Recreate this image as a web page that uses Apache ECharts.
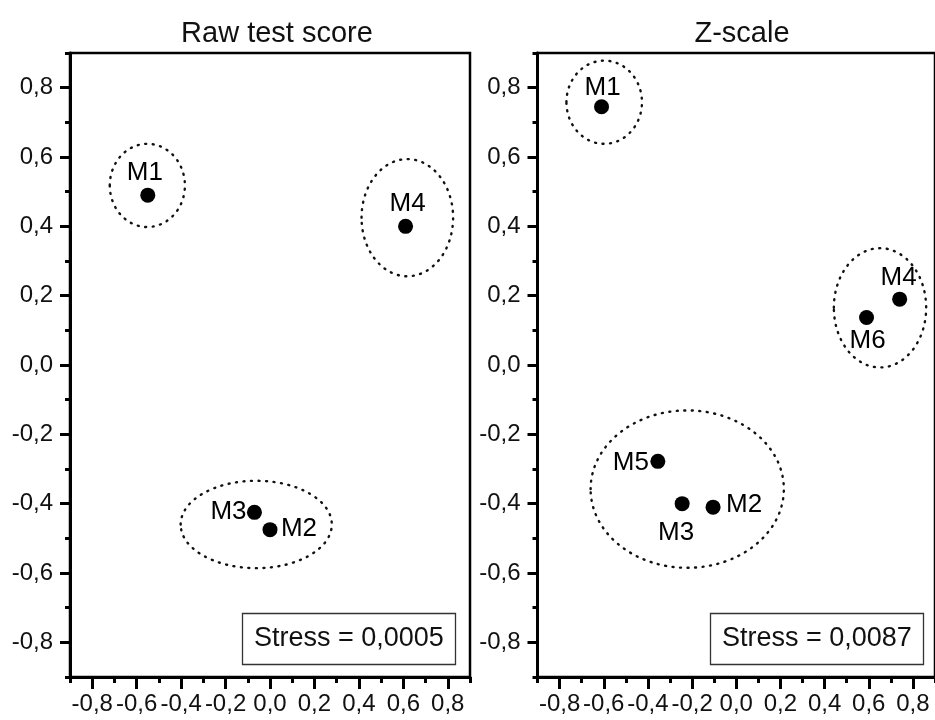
<!DOCTYPE html>
<html>
<head>
<meta charset="utf-8">
<script src="https://cdn.jsdelivr.net/npm/echarts@6/dist/echarts.min.js"></script>
<style>
  html, body { margin: 0; padding: 0; background: #fff; }
  #chart { width: 935px; height: 720px; }
</style>
</head>
<body>
<div id="chart"></div>
<script>
// ---- MDS configurations: two panels ----
const rawNames = ['M1', 'M2', 'M3', 'M4'];
const rawX = [-0.55, 0.0, -0.07, 0.61];
const rawY = [0.49, -0.475, -0.425, 0.40];

const zNames = ['M1', 'M2', 'M3', 'M4', 'M5', 'M6'];
const zX = [-0.61, -0.105, -0.245, 0.74, -0.355, 0.59];
const zY = [0.745, -0.41, -0.40, 0.19, -0.278, 0.137];

// cluster outlines: centre and semi-axes (data units)
const rawClusterCx = [-0.552, 0.618, -0.062];
const rawClusterCy = [0.518, 0.425, -0.46];
const rawClusterRx = [0.169, 0.206, 0.34];
const rawClusterRy = [0.12, 0.169, 0.126];

const zClusterCx = [-0.598, 0.651, -0.222];
const zClusterCy = [0.758, 0.165, -0.358];
const zClusterRx = [0.171, 0.209, 0.4375];
const zClusterRy = [0.12, 0.172, 0.227];

// axes
const axisMin = -0.9;
const axisMax = 0.9;
const tickValues = [-0.8, -0.6, -0.4, -0.2, 0.0, 0.2, 0.4, 0.6, 0.8];

const panelTitles = ['Raw test score', 'Z-scale'];
const stressTexts = ['Stress = 0,0005', 'Stress = 0,0087'];

// label placement around each point (pixel offsets)
const rawLabelOffset = { M1: [-3, -22], M2: [29, -1], M3: [-26, -1], M4: [2, -23] };
const zLabelOffset = { M1: [1, -19], M2: [31, -2], M3: [-6, 29], M4: [-1, -21], M5: [-27, 1], M6: [1, 23] };

const FONT = '"Liberation Sans", Arial, Helvetica, sans-serif';
const fmt = v => v.toFixed(1).replace('.', ',');

function xAxesFor(gi) {
  return [
    {
      type: 'value', gridIndex: gi, position: 'bottom', min: axisMin, max: axisMax, interval: 0.1,
      axisLine: { show: true, onZero: false, lineStyle: { color: '#000', width: 3 } },
      axisTick: { show: true, customValues: tickValues, length: 12, lineStyle: { color: '#000', width: 3 } },
      axisLabel: { customValues: tickValues, formatter: fmt, fontSize: 24, color: '#111', fontFamily: FONT, margin: 15 },
      splitLine: { show: false }
    },
    {
      type: 'value', gridIndex: gi, position: 'bottom', min: axisMin, max: axisMax, interval: 0.1,
      axisLine: { show: false, onZero: false },
      axisTick: { show: true, length: 6, lineStyle: { color: '#000', width: 3 } },
      axisLabel: { show: false },
      splitLine: { show: false }
    }
  ];
}

function yAxesFor(gi) {
  return [
    {
      type: 'value', gridIndex: gi, position: 'left', min: axisMin, max: axisMax, interval: 0.1,
      axisLine: { show: true, onZero: false, lineStyle: { color: '#000', width: 3 } },
      axisTick: { show: true, customValues: tickValues, length: 10, lineStyle: { color: '#000', width: 3 } },
      axisLabel: { customValues: tickValues, formatter: fmt, fontSize: 24, color: '#111', fontFamily: FONT, margin: 17 },
      splitLine: { show: false }
    },
    {
      type: 'value', gridIndex: gi, position: 'left', min: axisMin, max: axisMax, interval: 0.1,
      axisLine: { show: false, onZero: false },
      axisTick: { show: true, length: 5, lineStyle: { color: '#000', width: 3 } },
      axisLabel: { show: false },
      splitLine: { show: false }
    }
  ];
}

function pointSeries(axisIdx, names, xs, ys, offsets) {
  return {
    type: 'scatter',
    xAxisIndex: axisIdx, yAxisIndex: axisIdx,
    symbol: 'circle', symbolSize: 15,
    itemStyle: { color: '#000', opacity: 1 },
    z: 5,
    data: names.map((n, i) => ({
      name: n,
      value: [xs[i], ys[i]],
      label: {
        show: true, formatter: n, position: 'inside', offset: offsets[n],
        fontSize: 26, color: '#000', fontFamily: FONT
      }
    })),
    emphasis: { disabled: true }
  };
}

function clusterSeries(axisIdx, cx, cy, rx, ry) {
  return {
    type: 'custom',
    xAxisIndex: axisIdx, yAxisIndex: axisIdx,
    silent: true, z: 3,
    data: cx.map((c, i) => [c, cy[i], rx[i], ry[i]]),
    encode: { x: 0, y: 1 },
    renderItem: function (params, api) {
      const c = api.coord([api.value(0), api.value(1)]);
      const s = api.size([api.value(2), api.value(3)]);
      return {
        type: 'ellipse',
        shape: { cx: c[0], cy: c[1], rx: s[0], ry: s[1] },
        style: { fill: 'none', stroke: '#111', lineWidth: 2.4, lineDash: [1, 6.5], lineCap: 'round' }
      };
    }
  };
}

const chart = echarts.init(document.getElementById('chart'), null, { renderer: 'canvas' });

chart.setOption({
  backgroundColor: '#fff',
  animation: false,
  title: [
    { text: panelTitles[0], left: 272, top: 14, textAlign: 'center',
      textStyle: { fontSize: 29, fontWeight: 'normal', color: '#111', fontFamily: FONT } },
    { text: panelTitles[1], left: 737, top: 14, textAlign: 'center',
      textStyle: { fontSize: 29, fontWeight: 'normal', color: '#111', fontFamily: FONT } },
    { text: stressTexts[0], left: 242, top: 613, padding: [12, 12],
      borderColor: '#333', borderWidth: 1.3,
      textStyle: { fontSize: 27, fontWeight: 'normal', color: '#111', fontFamily: FONT, lineHeight: 28 } },
    { text: stressTexts[1], left: 710, top: 613, padding: [12, 12],
      borderColor: '#333', borderWidth: 1.3,
      textStyle: { fontSize: 27, fontWeight: 'normal', color: '#111', fontFamily: FONT, lineHeight: 28 } }
  ],
  grid: [
    { left: 70, top: 53, width: 400, height: 624, show: true, borderColor: '#000', borderWidth: 2.5, backgroundColor: 'transparent' },
    { left: 537.5, top: 53, width: 397.5, height: 624, show: true, borderColor: '#000', borderWidth: 2.5, backgroundColor: 'transparent' }
  ],
  xAxis: [...xAxesFor(0), ...xAxesFor(1)],
  yAxis: [...yAxesFor(0), ...yAxesFor(1)],
  series: [
    clusterSeries(0, rawClusterCx, rawClusterCy, rawClusterRx, rawClusterRy),
    pointSeries(0, rawNames, rawX, rawY, rawLabelOffset),
    clusterSeries(2, zClusterCx, zClusterCy, zClusterRx, zClusterRy),
    pointSeries(2, zNames, zX, zY, zLabelOffset)
  ]
});
</script>
</body>
</html>
